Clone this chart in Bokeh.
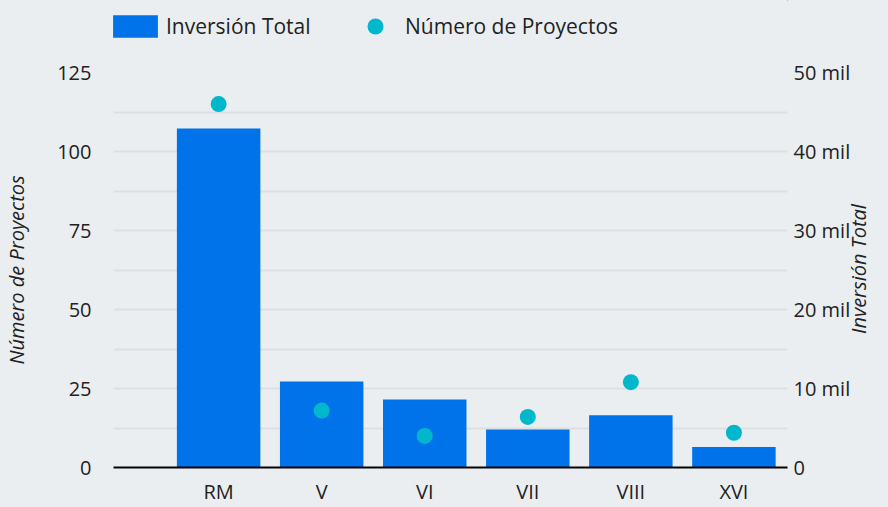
import math
from bokeh.plotting import figure
from bokeh.layouts import column
from bokeh.models import (Range1d, LinearAxis, FixedTicker, Legend, LegendItem,
                          ColumnDataSource)
from bokeh.embed import file_html
from bokeh.resources import INLINE

# ---- data ----
regiones = ["RM", "V", "VI", "VII", "VIII", "XVI"]
inversion_total = [42900, 10900, 8600, 4800, 6600, 2600]
numero_proyectos = [115, 18, 10, 16, 27, 11]
proy_ticks = [0, 25, 50, 75, 100, 125]
inv_ticks = [0, 10000, 20000, 30000, 40000, 50000]
inv_tick_labels = ["0", "10 mil", "20 mil", "30 mil", "40 mil", "50 mil"]

BG = "#EAEEF1"
BAR = "#0073EB"
DOT = "#00B7CC"
GRID = "#DEDFE0"
TXT = "#222222"
FONT = "Open Sans"
FS = "20px"

xpos = list(range(1, len(regiones) + 1))
src = ColumnDataSource(dict(x=xpos, region=regiones, inv=inversion_total,
                            proy=numero_proyectos))

# ---------------- main chart ----------------
p = figure(width=888, height=457,
           min_border_left=112, min_border_right=101,
           min_border_top=22, min_border_bottom=37,
           x_range=Range1d(-0.02, 6.52), y_range=Range1d(0, 125),
           output_backend="svg", toolbar_location=None)
p.background_fill_color = BG
p.border_fill_color = BG
p.outline_line_color = None

p.extra_y_ranges = {"inv": Range1d(0, 50000)}

bars = p.vbar(x="x", top="inv", width=0.81, source=src, y_range_name="inv",
              fill_color=BAR, line_color=None)
dots = p.scatter(x="x", y="proy", source=src, size=16, fill_color=DOT,
                 line_color=None)

p.xgrid.visible = False
p.ygrid.ticker = FixedTicker(ticks=[12.5 * i for i in range(11)])
p.ygrid.grid_line_color = GRID
p.ygrid.grid_line_width = 2

xa = p.xaxis[0]
xa.ticker = FixedTicker(ticks=xpos)
xa.major_label_overrides = {x: r for x, r in zip(xpos, regiones)}
xa.axis_line_color = "black"
xa.axis_line_width = 2
xa.major_tick_line_color = None
xa.minor_tick_line_color = None
xa.major_tick_in = 0
xa.major_tick_out = 0
xa.major_label_standoff = 10
xa.major_label_text_font = FONT
xa.major_label_text_font_size = FS
xa.major_label_text_color = TXT

ya = p.yaxis[0]
ya.ticker = FixedTicker(ticks=proy_ticks)
ya.axis_line_color = None
ya.major_tick_line_color = None
ya.minor_tick_line_color = None
ya.major_tick_in = 0
ya.major_tick_out = 0
ya.major_label_standoff = 22
ya.major_label_text_font = FONT
ya.major_label_text_font_size = FS
ya.major_label_text_color = TXT
ya.axis_label = "Número de Proyectos"
ya.axis_label_text_font = FONT
ya.axis_label_text_font_style = "italic"
ya.axis_label_text_font_size = FS
ya.axis_label_text_color = TXT
ya.axis_label_standoff = 24

# right axis: tick labels
ra = LinearAxis(y_range_name="inv", ticker=FixedTicker(ticks=inv_ticks))
ra.major_label_overrides = {t: l for t, l in zip(inv_ticks, inv_tick_labels)}
ra.axis_line_color = None
ra.major_tick_line_color = None
ra.minor_tick_line_color = None
ra.major_tick_in = 0
ra.major_tick_out = 0
ra.major_label_standoff = 6
ra.major_label_text_font = FONT
ra.major_label_text_font_size = FS
ra.major_label_text_color = TXT
p.add_layout(ra, "right")

# right axis title, reading bottom-to-top (placed as a single rotated label)
TITLE_ANCHOR = 16900
rl = LinearAxis(y_range_name="inv", ticker=FixedTicker(ticks=[TITLE_ANCHOR]))
rl.major_label_overrides = {TITLE_ANCHOR: "Inversión Total"}
rl.major_label_orientation = math.pi / 2
rl.axis_line_color = None
rl.major_tick_line_color = None
rl.minor_tick_line_color = None
rl.major_tick_in = 0
rl.major_tick_out = 0
rl.major_label_standoff = 5
rl.major_label_text_font = FONT
rl.major_label_text_font_style = "italic"
rl.major_label_text_font_size = FS
rl.major_label_text_color = TXT
p.add_layout(rl, "right")

# ---------------- legend strip ----------------
lf = figure(width=888, height=50, x_range=Range1d(-10, -9), y_range=Range1d(-10, -9),
            x_axis_type=None, y_axis_type=None, min_border=0,
            output_backend="svg", toolbar_location=None)
lf.background_fill_alpha = 0
lf.border_fill_alpha = 0
lf.outline_line_color = None
lf.grid.visible = False
# same series, drawn outside the strip's visible range: only their legend glyphs show
lbar = lf.vbar(x="x", top="inv", width=0.81, source=src,
               fill_color=BAR, line_color=None)
ldot = lf.scatter(x="x", y="proy", source=src, size=16,
                  fill_color=DOT, line_color=None)

common = dict(orientation="horizontal", padding=0, margin=0,
              border_line_color=None, background_fill_alpha=0,
              label_text_font=FONT, label_text_font_size="21px",
              label_text_color=TXT)
leg1 = Legend(items=[LegendItem(label="Inversión Total", renderers=[lbar])],
              location=(-6, 10), glyph_width=56, glyph_height=28,
              label_standoff=3, label_height=28, **common)
leg2 = Legend(items=[LegendItem(label="Número de Proyectos", renderers=[ldot])],
              location=(242, 4), glyph_width=40, glyph_height=40,
              label_standoff=10, label_height=40, **common)
lf.add_layout(leg1, "center")
lf.add_layout(leg2, "center")

layout = column(lf, p, spacing=0, styles={"background-color": BG})
open("out.html", "w").write(file_html(layout, INLINE))
